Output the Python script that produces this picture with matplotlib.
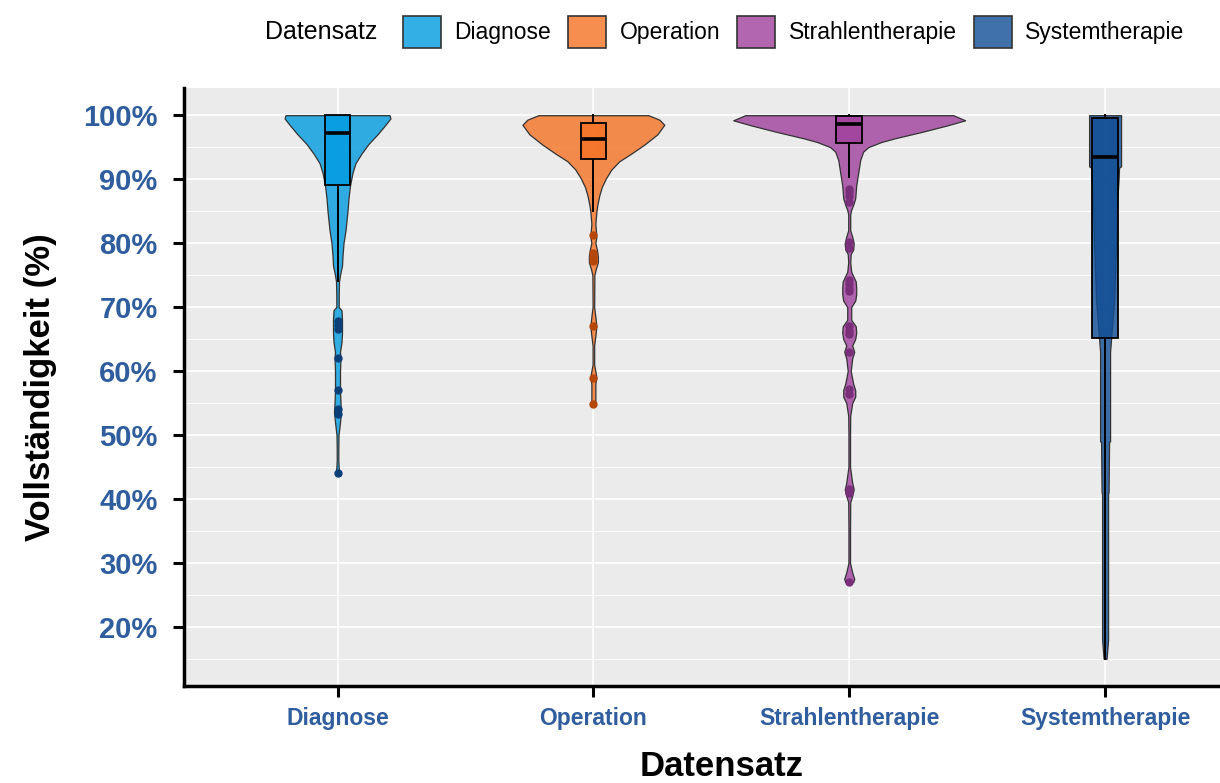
import numpy as np
import matplotlib.pyplot as plt
from matplotlib.patches import Patch, Rectangle
from matplotlib.colors import to_rgba

plt.rcParams['font.family'] = ['Liberation Sans', 'DejaVu Sans']

# ==========================================
# Data
# ==========================================

CATEGORIES = ["Diagnose", "Operation", "Strahlentherapie", "Systemtherapie"]

BASE_COLORS = ["#009BE0", "#F47224", "#9F409D", "#104D95"]
POINT_COLORS = ["#0B3F78", "#B5470A", "#7A2F7A", "#0B3F78"]

# violin outlines: y in %, half width (pixels of a 256 px category step)
diag_violin_y = [100, 99.5, 98.5, 97, 95.5, 94, 92.5, 91, 89, 87, 85, 82, 80, 78,
                 76.5, 75, 74, 72, 70, 69.5, 68, 66, 64.5, 63, 62, 60, 57, 55,
                 53.5, 52, 50, 48, 46, 44]
diag_violin_hw = [52, 53, 48, 40, 31, 24, 18, 15, 12.5, 11, 10, 8, 6, 5,
                  4.5, 2.5, 1.5, 1.2, 1.2, 4, 4.5, 4.5, 4, 2.5, 3, 2.5, 2.5, 3,
                  3.5, 2.5, 1, 0.8, 0.8, 1.5]

op_violin_y = [100, 99.3, 98.5, 97, 95.4, 94, 92.8, 91.5, 90.1, 88.8, 87.5, 86,
               84.9, 83, 82, 81, 80, 79, 78, 77, 76, 75, 70, 68.5, 67, 65.5, 64,
               61, 60, 59, 58, 56.5, 55]
op_violin_hw = [55, 66, 71, 64, 51, 38, 26, 18, 12.5, 8.5, 6, 4,
                3, 2, 2.5, 3, 2, 3.5, 4.5, 4.5, 2.5, 1, 0.8, 2, 3, 2, 0.8,
                0.8, 2, 3, 2, 2, 2]

str_violin_y = [100, 99.2, 98.4, 97.4, 96.4, 95.8, 95, 94.3, 93, 92, 90, 89, 88,
                87, 86, 85.2, 84.5, 82, 81, 80, 79, 78.3, 77, 75.5, 74, 73, 72,
                71, 70, 68, 67, 66, 65, 64, 63, 62, 60, 58, 57, 56, 55, 53, 50,
                45, 42.5, 41.5, 40.5, 39.5, 35, 30, 28.5, 27.5, 27]
str_violin_hw = [104, 116, 98, 73, 46, 32, 19, 14, 11, 10, 8, 7, 6.5,
                 6, 4, 2, 1, 1, 3, 4.5, 4, 1.5, 1, 2, 6.5, 7, 7,
                 6, 2, 2, 6.5, 7, 6, 3, 5, 3, 1.5, 4, 6, 6, 3, 1, 0.8,
                 0.8, 3, 4.5, 3, 1, 0.8, 0.8, 3, 5, 4]

sys_violin_y = [100, 92, 91.8, 90, 86, 80, 71, 65, 63, 55, 49, 48.9, 41, 40.9, 18, 15]
sys_violin_hw = [16, 16, 14, 13.5, 12, 11, 9, 6, 5, 5, 5, 4, 3.5, 3, 3, 1.5]

VIOLINS_Y = [diag_violin_y, op_violin_y, str_violin_y, sys_violin_y]
VIOLINS_HW = [diag_violin_hw, op_violin_hw, str_violin_hw, sys_violin_hw]

# boxplot statistics
box_q1 = [89.1, 93.1, 95.6, 65.2]
box_median = [97.2, 96.3, 98.6, 93.4]
box_q3 = [100, 98.7, 99.8, 99.5]
whisker_low = [74, 85, 90.3, 15]
whisker_high = [100, 100, 100, 100]

diag_outliers = [67.8, 67.2, 66.5, 62, 57, 54, 53.3, 44]
op_outliers = [81.3, 78.5, 77.8, 77.2, 67.1, 58.9, 54.9]
str_outliers = [88.5, 88, 87.3, 86.5, 80.2, 79.3, 74.2, 73.6, 73, 72.5, 67,
                66.3, 65.8, 63, 57.2, 56.4, 41.5, 41, 27]
sys_outliers = []
OUTLIERS = [diag_outliers, op_outliers, str_outliers, sys_outliers]

Y_TICKS = [20, 30, 40, 50, 60, 70, 80, 90, 100]

# ==========================================
# Settings
# ==========================================

PX_PER_CATEGORY = 256.0
BOX_WIDTH = 0.1
FILL_ALPHA = 0.8
TICK_BLUE = "#2F5D9E"
PANEL_BG = "#EBEBEB"


def main():
    fig = plt.figure(figsize=(12.2, 7.83), dpi=100)
    ax = fig.add_axes([184 / 1220, 1 - 686 / 783, (1258.6 - 184) / 1220, (686 - 88) / 783])

    ax.set_facecolor(PANEL_BG)
    ax.set_xlim(0.4, 4.6)
    ax.set_ylim(10.75, 104.25)

    # grid
    for y in Y_TICKS:
        ax.axhline(y, color="white", lw=1.2, zorder=0)
    for y in np.arange(15, 101, 10):
        ax.axhline(y, color="white", lw=0.6, zorder=0)
    for i in range(len(CATEGORIES)):
        ax.axvline(i + 1, color="white", lw=1.2, zorder=0)

    for i, name in enumerate(CATEGORIES):
        c = i + 1
        base = BASE_COLORS[i]
        y = np.array(VIOLINS_Y[i], dtype=float)
        hw = np.array(VIOLINS_HW[i], dtype=float) / PX_PER_CATEGORY

        ax.fill_betweenx(y, c - hw, c + hw, facecolor=to_rgba(base, FILL_ALPHA),
                         edgecolor="#333333", lw=0.9, zorder=2)

        # whiskers
        ax.plot([c, c], [box_q3[i], whisker_high[i]], color="black", lw=1.4, zorder=3)
        ax.plot([c, c], [whisker_low[i], box_q1[i]], color="black", lw=1.4, zorder=3)

        # box
        ax.add_patch(Rectangle((c - BOX_WIDTH / 2, box_q1[i]), BOX_WIDTH,
                               box_q3[i] - box_q1[i],
                               facecolor=to_rgba(base, FILL_ALPHA),
                               edgecolor="black", lw=1.3, zorder=4))
        ax.plot([c - BOX_WIDTH / 2, c + BOX_WIDTH / 2], [box_median[i]] * 2,
                color="black", lw=2.6, zorder=5, solid_capstyle="butt")

        # outliers
        if OUTLIERS[i]:
            ax.plot([c] * len(OUTLIERS[i]), OUTLIERS[i], "o", ms=5,
                    color=POINT_COLORS[i], mec=POINT_COLORS[i], zorder=6)

    # axes styling
    for side in ["top", "right"]:
        ax.spines[side].set_visible(False)
    for side in ["left", "bottom"]:
        ax.spines[side].set_linewidth(2.5)
        ax.spines[side].set_color("black")

    ax.set_yticks(Y_TICKS)
    ax.set_yticklabels([f"{v}%" for v in Y_TICKS])
    ax.set_xticks(range(1, len(CATEGORIES) + 1))
    ax.set_xticklabels(CATEGORIES)

    ax.tick_params(axis="y", length=8, width=2.2, color="black", pad=11,
                   labelsize=21, labelcolor=TICK_BLUE)
    ax.tick_params(axis="x", length=8, width=2.2, color="black", pad=7,
                   labelsize=16.5, labelcolor=TICK_BLUE)
    for lab in ax.get_yticklabels() + ax.get_xticklabels():
        lab.set_fontweight("bold")

    fig.text(41 / 1220, 1 - 387 / 783, "Vollständigkeit (%)", rotation=90,
             ha="center", va="center", fontsize=25, fontweight="bold")
    fig.text(722 / 1220, 1 - 766 / 783, "Datensatz", ha="center", va="center",
             fontsize=25, fontweight="bold")

    # legend
    fig.text(265 / 1220, 1 - 32 / 783, "Datensatz", ha="left", va="center", fontsize=18)
    handles = [Patch(facecolor=to_rgba(b, FILL_ALPHA), edgecolor="#333333", lw=1.2)
               for b in BASE_COLORS]
    fig.legend(handles, CATEGORIES, loc="center left",
               bbox_to_anchor=(403 / 1220, 1 - 32 / 783), ncol=4, frameon=False,
               fontsize=16.5, handlelength=1.64, handleheight=1.78, handletextpad=0.6,
               columnspacing=0.75, borderpad=0, borderaxespad=0)

    fig.savefig("out.png", dpi=100)


if __name__ == "__main__":
    main()
